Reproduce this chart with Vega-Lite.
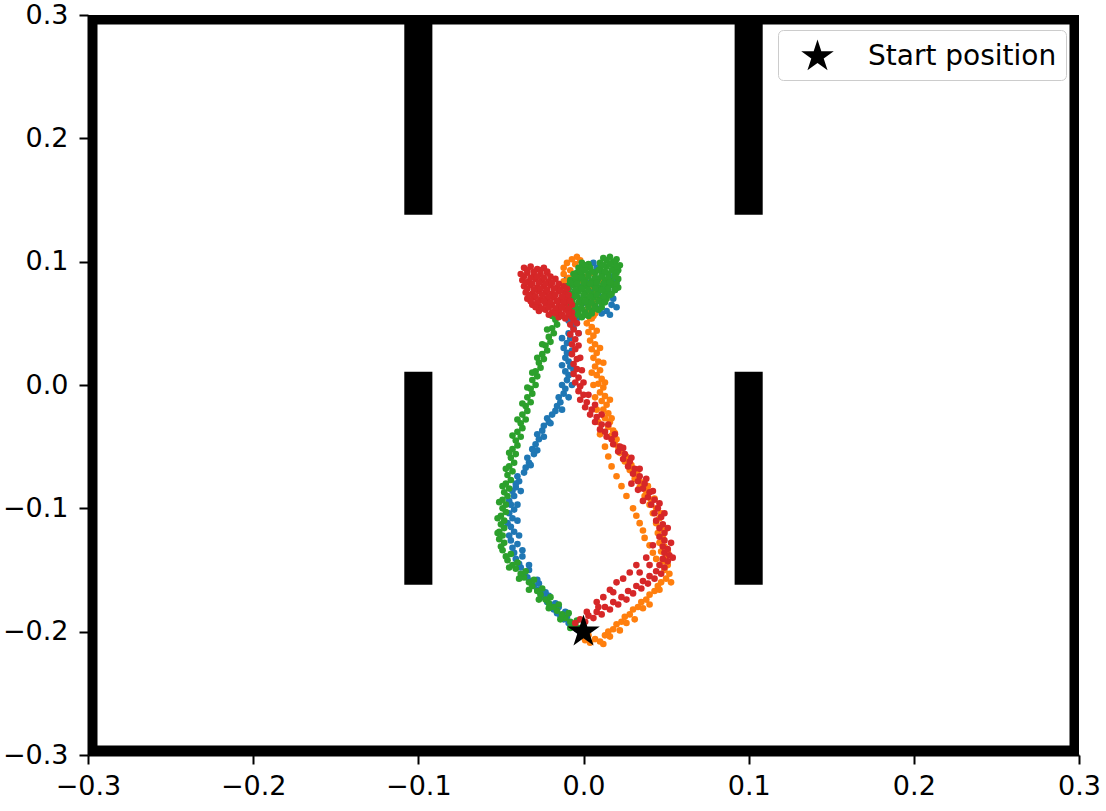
{
  "$schema": "https://vega.github.io/schema/vega-lite/v6.json",
  "width": 991,
  "height": 740,
  "autosize": {"type": "none"},
  "padding": {"left": 88, "top": 15, "right": 27, "bottom": 56},
  "background": "white",
  "config": {
    "view": {"stroke": null},
    "font": "DejaVu Sans",
    "axis": {
      "grid": false,
      "title": null,
      "labelFont": "DejaVu Sans",
      "labelFontSize": 27,
      "labelColor": "black",
      "tickColor": "black",
      "tickSize": 9,
      "tickWidth": 2,
      "domainColor": "black",
      "domainWidth": 2,
      "labelFlush": false,
      "labelOverlap": false
    },
    "axisX": {"labelPadding": 9},
    "axisY": {"labelPadding": 11}
  },
  "datasets": {
    "border": [
      {"x": -0.3, "x2": -0.3, "y": -0.3, "y2": 0.3},
      {"x": 0.3, "x2": 0.3, "y": -0.3, "y2": 0.3},
      {"x": -0.3, "x2": 0.3, "y": 0.3, "y2": 0.3},
      {"x": -0.3, "x2": 0.3, "y": -0.3, "y2": -0.3}
    ],
    "walls": [
      {"x": -0.1085, "x2": -0.0915, "y": 0.138, "y2": 0.3},
      {"x": -0.1085, "x2": -0.0915, "y": -0.162, "y2": 0.0108},
      {"x": 0.0915, "x2": 0.1085, "y": 0.138, "y2": 0.3},
      {"x": 0.0915, "x2": 0.1085, "y": -0.162, "y2": 0.0108}
    ],
    "start": [{"x": 0, "y": -0.2, "label": "Start position"}],
    "traj": [
      {"run":"1","x":-0.002,"y":-0.201},{"run":"1","x":-0.004,"y":-0.198},{"run":"1","x":-0.007,"y":-0.196},{"run":"1","x":-0.009,"y":-0.193},{"run":"1","x":-0.012,"y":-0.190},{"run":"1","x":-0.010,"y":-0.188},{"run":"1","x":-0.014,"y":-0.187},{"run":"1","x":-0.016,"y":-0.185},{"run":"1","x":-0.018,"y":-0.182},{"run":"1","x":-0.015,"y":-0.180},{"run":"1","x":-0.020,"y":-0.178},{"run":"1","x":-0.022,"y":-0.176},{"run":"1","x":-0.024,"y":-0.172},{"run":"1","x":-0.021,"y":-0.171},{"run":"1","x":-0.026,"y":-0.169},{"run":"1","x":-0.028,"y":-0.166},{"run":"1","x":-0.030,"y":-0.163},{"run":"1","x":-0.027,"y":-0.161},{"run":"1","x":-0.032,"y":-0.159},{"run":"1","x":-0.034,"y":-0.156},{"run":"1","x":-0.036,"y":-0.153},{"run":"1","x":-0.033,"y":-0.150},{"run":"1","x":-0.038,"y":-0.148},{"run":"1","x":-0.039,"y":-0.145},{"run":"1","x":-0.041,"y":-0.141},{"run":"1","x":-0.037,"y":-0.139},{"run":"1","x":-0.042,"y":-0.136},{"run":"1","x":-0.043,"y":-0.132},{"run":"1","x":-0.040,"y":-0.129},{"run":"1","x":-0.044,"y":-0.126},{"run":"1","x":-0.045,"y":-0.122},{"run":"1","x":-0.042,"y":-0.119},{"run":"1","x":-0.044,"y":-0.115},{"run":"1","x":-0.046,"y":-0.112},{"run":"1","x":-0.043,"y":-0.108},{"run":"1","x":-0.045,"y":-0.104},{"run":"1","x":-0.042,"y":-0.101},{"run":"1","x":-0.044,"y":-0.097},{"run":"1","x":-0.045,"y":-0.094},{"run":"1","x":-0.042,"y":-0.090},{"run":"1","x":-0.043,"y":-0.086},{"run":"1","x":-0.041,"y":-0.083},{"run":"1","x":-0.039,"y":-0.078},{"run":"1","x":-0.040,"y":-0.074},{"run":"1","x":-0.036,"y":-0.071},{"run":"1","x":-0.035,"y":-0.067},{"run":"1","x":-0.033,"y":-0.063},{"run":"1","x":-0.034,"y":-0.059},{"run":"1","x":-0.030,"y":-0.056},{"run":"1","x":-0.031,"y":-0.052},{"run":"1","x":-0.029,"y":-0.048},{"run":"1","x":-0.027,"y":-0.044},{"run":"1","x":-0.028,"y":-0.040},{"run":"1","x":-0.025,"y":-0.037},{"run":"1","x":-0.024,"y":-0.033},{"run":"1","x":-0.021,"y":-0.030},{"run":"1","x":-0.022,"y":-0.027},{"run":"1","x":-0.019,"y":-0.024},{"run":"1","x":-0.017,"y":-0.021},{"run":"1","x":-0.016,"y":-0.017},{"run":"1","x":-0.014,"y":-0.014},{"run":"1","x":-0.015,"y":-0.010},{"run":"1","x":-0.012,"y":-0.007},{"run":"1","x":-0.011,"y":-0.003},{"run":"1","x":-0.013,"y":0.000},{"run":"1","x":-0.010,"y":0.004},{"run":"1","x":-0.009,"y":0.008},{"run":"1","x":-0.011,"y":0.011},{"run":"1","x":-0.008,"y":0.015},{"run":"1","x":-0.009,"y":0.019},{"run":"1","x":-0.011,"y":0.022},{"run":"1","x":-0.010,"y":0.026},{"run":"1","x":-0.012,"y":0.030},{"run":"1","x":-0.010,"y":0.034},{"run":"1","x":-0.008,"y":0.038},{"run":"1","x":-0.009,"y":0.042},{"run":"1","x":-0.006,"y":0.046},{"run":"1","x":-0.007,"y":0.050},{"run":"1","x":-0.004,"y":0.054},{"run":"1","x":-0.005,"y":0.058},
      {"run":"1","x":-0.006,"y":-0.194},{"run":"1","x":-0.011,"y":-0.184},{"run":"1","x":-0.017,"y":-0.177},{"run":"1","x":-0.023,"y":-0.168},{"run":"1","x":-0.028,"y":-0.158},{"run":"1","x":-0.033,"y":-0.146},{"run":"1","x":-0.037,"y":-0.134},{"run":"1","x":-0.039,"y":-0.122},{"run":"1","x":-0.040,"y":-0.110},{"run":"1","x":-0.040,"y":-0.097},{"run":"1","x":-0.038,"y":-0.086},{"run":"1","x":-0.041,"y":-0.080},{"run":"1","x":-0.032,"y":-0.065},{"run":"1","x":-0.028,"y":-0.053},{"run":"1","x":-0.024,"y":-0.042},{"run":"1","x":-0.020,"y":-0.031},{"run":"1","x":-0.013,"y":-0.020},{"run":"1","x":-0.009,"y":-0.010},{"run":"1","x":-0.007,"y":0.000},{"run":"1","x":-0.006,"y":0.012},{"run":"1","x":-0.013,"y":0.016},{"run":"1","x":-0.007,"y":0.028},{"run":"1","x":-0.013,"y":0.038},{"run":"1","x":-0.003,"y":0.042},{"run":"1","x":-0.009,"y":0.052},
      {"run":"1","x":-0.002,"y":0.062},{"run":"1","x":0.002,"y":0.066},{"run":"1","x":0.006,"y":0.060},{"run":"1","x":0.010,"y":0.062},{"run":"1","x":0.014,"y":0.060},{"run":"1","x":0.017,"y":0.065},{"run":"1","x":0.012,"y":0.068},{"run":"1","x":0.018,"y":0.070},{"run":"1","x":0.015,"y":0.074},{"run":"1","x":0.019,"y":0.077},{"run":"1","x":0.016,"y":0.081},{"run":"1","x":0.020,"y":0.084},{"run":"1","x":0.017,"y":0.088},{"run":"1","x":0.012,"y":0.091},{"run":"1","x":0.008,"y":0.095},{"run":"1","x":0.006,"y":0.099},{"run":"1","x":0.002,"y":0.097},{"run":"1","x":-0.002,"y":0.094},{"run":"1","x":-0.006,"y":0.090},{"run":"1","x":-0.010,"y":0.086},{"run":"1","x":-0.012,"y":0.082},{"run":"1","x":-0.009,"y":0.078},{"run":"1","x":-0.005,"y":0.074},{"run":"1","x":0.000,"y":0.071},{"run":"1","x":0.004,"y":0.076},{"run":"1","x":0.008,"y":0.080},{"run":"1","x":0.011,"y":0.084},{"run":"1","x":0.007,"y":0.087},{"run":"1","x":0.003,"y":0.083},{"run":"1","x":-0.001,"y":0.080},{"run":"1","x":0.005,"y":0.070},{"run":"1","x":0.009,"y":0.073},{"run":"1","x":0.013,"y":0.077},{"run":"1","x":0.020,"y":0.063},{"run":"1","x":0.016,"y":0.057},{"run":"1","x":0.011,"y":0.058},

      {"run":"2","x":0.001,"y":-0.207},{"run":"2","x":0.004,"y":-0.209},{"run":"2","x":0.007,"y":-0.206},{"run":"2","x":0.010,"y":-0.208},{"run":"2","x":0.013,"y":-0.203},{"run":"2","x":0.015,"y":-0.200},{"run":"2","x":0.018,"y":-0.198},{"run":"2","x":0.020,"y":-0.194},{"run":"2","x":0.023,"y":-0.192},{"run":"2","x":0.025,"y":-0.188},{"run":"2","x":0.028,"y":-0.186},{"run":"2","x":0.030,"y":-0.182},{"run":"2","x":0.033,"y":-0.180},{"run":"2","x":0.035,"y":-0.176},{"run":"2","x":0.038,"y":-0.174},{"run":"2","x":0.040,"y":-0.170},{"run":"2","x":0.043,"y":-0.167},{"run":"2","x":0.045,"y":-0.163},{"run":"2","x":0.047,"y":-0.160},{"run":"2","x":0.050,"y":-0.157},{"run":"2","x":0.052,"y":-0.153},{"run":"2","x":0.049,"y":-0.150},{"run":"2","x":0.051,"y":-0.146},{"run":"2","x":0.048,"y":-0.143},{"run":"2","x":0.050,"y":-0.139},{"run":"2","x":0.047,"y":-0.135},{"run":"2","x":0.049,"y":-0.131},{"run":"2","x":0.046,"y":-0.128},{"run":"2","x":0.048,"y":-0.124},{"run":"2","x":0.045,"y":-0.120},{"run":"2","x":0.047,"y":-0.116},{"run":"2","x":0.044,"y":-0.112},{"run":"2","x":0.046,"y":-0.108},{"run":"2","x":0.042,"y":-0.104},{"run":"2","x":0.044,"y":-0.100},{"run":"2","x":0.040,"y":-0.097},{"run":"2","x":0.041,"y":-0.093},{"run":"2","x":0.037,"y":-0.090},{"run":"2","x":0.038,"y":-0.086},{"run":"2","x":0.034,"y":-0.083},{"run":"2","x":0.035,"y":-0.079},{"run":"2","x":0.031,"y":-0.076},{"run":"2","x":0.032,"y":-0.072},{"run":"2","x":0.028,"y":-0.069},{"run":"2","x":0.029,"y":-0.065},{"run":"2","x":0.025,"y":-0.062},{"run":"2","x":0.026,"y":-0.058},{"run":"2","x":0.022,"y":-0.055},{"run":"2","x":0.023,"y":-0.051},{"run":"2","x":0.019,"y":-0.048},{"run":"2","x":0.020,"y":-0.044},{"run":"2","x":0.017,"y":-0.041},{"run":"2","x":0.018,"y":-0.037},{"run":"2","x":0.015,"y":-0.034},{"run":"2","x":0.016,"y":-0.030},{"run":"2","x":0.013,"y":-0.027},{"run":"2","x":0.015,"y":-0.023},{"run":"2","x":0.012,"y":-0.020},{"run":"2","x":0.014,"y":-0.016},{"run":"2","x":0.011,"y":-0.013},{"run":"2","x":0.013,"y":-0.009},{"run":"2","x":0.010,"y":-0.006},{"run":"2","x":0.012,"y":-0.002},{"run":"2","x":0.009,"y":0.001},{"run":"2","x":0.011,"y":0.005},{"run":"2","x":0.008,"y":0.008},{"run":"2","x":0.010,"y":0.012},{"run":"2","x":0.007,"y":0.015},{"run":"2","x":0.009,"y":0.019},{"run":"2","x":0.006,"y":0.022},{"run":"2","x":0.008,"y":0.026},{"run":"2","x":0.005,"y":0.029},{"run":"2","x":0.007,"y":0.033},{"run":"2","x":0.004,"y":0.036},{"run":"2","x":0.006,"y":0.040},{"run":"2","x":0.003,"y":0.043},{"run":"2","x":0.005,"y":0.047},{"run":"2","x":0.002,"y":0.050},{"run":"2","x":0.004,"y":0.054},{"run":"2","x":0.001,"y":0.057},{"run":"2","x":0.003,"y":0.061},
      {"run":"2","x":0.030,"y":-0.100},{"run":"2","x":0.032,"y":-0.106},{"run":"2","x":0.034,"y":-0.112},{"run":"2","x":0.036,"y":-0.118},{"run":"2","x":0.037,"y":-0.124},{"run":"2","x":0.040,"y":-0.130},{"run":"2","x":0.042,"y":-0.136},{"run":"2","x":0.044,"y":-0.141},{"run":"2","x":0.026,"y":-0.090},{"run":"2","x":0.023,"y":-0.082},{"run":"2","x":0.020,"y":-0.074},{"run":"2","x":0.017,"y":-0.066},{"run":"2","x":0.015,"y":-0.058},{"run":"2","x":0.013,"y":-0.050},{"run":"2","x":0.010,"y":-0.040},{"run":"2","x":0.009,"y":-0.030},{"run":"2","x":0.008,"y":-0.020},{"run":"2","x":0.007,"y":-0.010},{"run":"2","x":0.006,"y":0.000},{"run":"2","x":0.005,"y":0.010},{"run":"2","x":0.003,"y":-0.203},{"run":"2","x":0.016,"y":-0.204},{"run":"2","x":0.022,"y":-0.199},{"run":"2","x":0.031,"y":-0.190},{"run":"2","x":0.040,"y":-0.178},
      {"run":"2","x":0.053,"y":-0.160},{"run":"2","x":0.046,"y":-0.166},{"run":"2","x":0.036,"y":-0.181},{"run":"2","x":0.026,"y":-0.193},{"run":"2","x":0.012,"y":-0.210},{"run":"2","x":0.051,"y":-0.135},{"run":"2","x":0.049,"y":-0.118},{"run":"2","x":0.047,"y":-0.104},{"run":"2","x":0.043,"y":-0.092},{"run":"2","x":0.039,"y":-0.082},{"run":"2","x":0.033,"y":-0.069},{"run":"2","x":0.027,"y":-0.060},{"run":"2","x":0.021,"y":-0.050},{"run":"2","x":0.019,"y":-0.039},{"run":"2","x":0.017,"y":-0.027},{"run":"2","x":0.016,"y":-0.012},{"run":"2","x":0.013,"y":0.002},{"run":"2","x":0.012,"y":0.018},{"run":"2","x":0.010,"y":0.030},{"run":"2","x":0.008,"y":0.044},{"run":"2","x":0.006,"y":0.056},
      {"run":"2","x":-0.004,"y":0.104},{"run":"2","x":-0.007,"y":0.102},{"run":"2","x":-0.002,"y":0.101},{"run":"2","x":-0.010,"y":0.099},{"run":"2","x":-0.005,"y":0.098},{"run":"2","x":-0.012,"y":0.095},{"run":"2","x":-0.008,"y":0.093},{"run":"2","x":-0.012,"y":0.090},{"run":"2","x":-0.009,"y":0.087},{"run":"2","x":-0.012,"y":0.084},{"run":"2","x":-0.006,"y":0.082},{"run":"2","x":-0.002,"y":0.085},{"run":"2","x":0.002,"y":0.088},{"run":"2","x":0.005,"y":0.091},{"run":"2","x":0.001,"y":0.094},{"run":"2","x":-0.003,"y":0.090},{"run":"2","x":0.004,"y":0.080},{"run":"2","x":0.008,"y":0.076},{"run":"2","x":0.004,"y":0.072},{"run":"2","x":0.000,"y":0.068},{"run":"2","x":0.006,"y":0.066},{"run":"2","x":0.003,"y":0.063},{"run":"2","x":0.008,"y":0.070},{"run":"2","x":0.010,"y":0.085},{"run":"2","x":0.007,"y":0.058},{"run":"2","x":0.005,"y":0.054},

      {"run":"3","x":-0.002,"y":-0.197},{"run":"3","x":-0.005,"y":-0.195},{"run":"3","x":-0.008,"y":-0.192},{"run":"3","x":-0.004,"y":-0.191},{"run":"3","x":-0.011,"y":-0.189},{"run":"3","x":-0.013,"y":-0.186},{"run":"3","x":-0.009,"y":-0.185},{"run":"3","x":-0.016,"y":-0.183},{"run":"3","x":-0.018,"y":-0.180},{"run":"3","x":-0.015,"y":-0.178},{"run":"3","x":-0.021,"y":-0.177},{"run":"3","x":-0.023,"y":-0.174},{"run":"3","x":-0.020,"y":-0.172},{"run":"3","x":-0.026,"y":-0.170},{"run":"3","x":-0.028,"y":-0.167},{"run":"3","x":-0.025,"y":-0.165},{"run":"3","x":-0.031,"y":-0.163},{"run":"3","x":-0.033,"y":-0.160},{"run":"3","x":-0.030,"y":-0.158},{"run":"3","x":-0.036,"y":-0.156},{"run":"3","x":-0.038,"y":-0.153},{"run":"3","x":-0.035,"y":-0.151},{"run":"3","x":-0.041,"y":-0.149},{"run":"3","x":-0.043,"y":-0.146},{"run":"3","x":-0.040,"y":-0.144},{"run":"3","x":-0.046,"y":-0.142},{"run":"3","x":-0.047,"y":-0.139},{"run":"3","x":-0.044,"y":-0.137},{"run":"3","x":-0.049,"y":-0.134},{"run":"3","x":-0.050,"y":-0.131},{"run":"3","x":-0.048,"y":-0.128},{"run":"3","x":-0.051,"y":-0.125},{"run":"3","x":-0.049,"y":-0.122},{"run":"3","x":-0.051,"y":-0.119},{"run":"3","x":-0.048,"y":-0.116},{"run":"3","x":-0.050,"y":-0.113},{"run":"3","x":-0.048,"y":-0.110},{"run":"3","x":-0.050,"y":-0.106},{"run":"3","x":-0.047,"y":-0.103},{"run":"3","x":-0.049,"y":-0.100},{"run":"3","x":-0.047,"y":-0.097},{"run":"3","x":-0.049,"y":-0.093},{"run":"3","x":-0.046,"y":-0.090},{"run":"3","x":-0.048,"y":-0.087},{"run":"3","x":-0.045,"y":-0.084},{"run":"3","x":-0.047,"y":-0.080},{"run":"3","x":-0.044,"y":-0.077},{"run":"3","x":-0.046,"y":-0.073},{"run":"3","x":-0.043,"y":-0.070},{"run":"3","x":-0.045,"y":-0.066},{"run":"3","x":-0.042,"y":-0.063},{"run":"3","x":-0.044,"y":-0.059},{"run":"3","x":-0.041,"y":-0.056},{"run":"3","x":-0.043,"y":-0.052},{"run":"3","x":-0.040,"y":-0.049},{"run":"3","x":-0.041,"y":-0.045},{"run":"3","x":-0.038,"y":-0.042},{"run":"3","x":-0.040,"y":-0.038},{"run":"3","x":-0.037,"y":-0.035},{"run":"3","x":-0.038,"y":-0.031},{"run":"3","x":-0.035,"y":-0.028},{"run":"3","x":-0.037,"y":-0.024},{"run":"3","x":-0.034,"y":-0.021},{"run":"3","x":-0.035,"y":-0.017},{"run":"3","x":-0.032,"y":-0.014},{"run":"3","x":-0.034,"y":-0.010},{"run":"3","x":-0.031,"y":-0.007},{"run":"3","x":-0.032,"y":-0.003},{"run":"3","x":-0.029,"y":0.000},{"run":"3","x":-0.031,"y":0.004},{"run":"3","x":-0.028,"y":0.007},{"run":"3","x":-0.029,"y":0.011},{"run":"3","x":-0.026,"y":0.014},{"run":"3","x":-0.027,"y":0.018},{"run":"3","x":-0.024,"y":0.021},{"run":"3","x":-0.025,"y":0.025},{"run":"3","x":-0.022,"y":0.028},{"run":"3","x":-0.023,"y":0.032},{"run":"3","x":-0.020,"y":0.035},{"run":"3","x":-0.021,"y":0.039},{"run":"3","x":-0.018,"y":0.042},{"run":"3","x":-0.019,"y":0.046},{"run":"3","x":-0.016,"y":0.049},{"run":"3","x":-0.017,"y":0.053},{"run":"3","x":-0.014,"y":0.056},{"run":"3","x":-0.015,"y":0.060},
      {"run":"3","x":-0.052,"y":-0.120},{"run":"3","x":-0.052,"y":-0.108},{"run":"3","x":-0.051,"y":-0.095},{"run":"3","x":-0.049,"y":-0.082},{"run":"3","x":-0.047,"y":-0.068},{"run":"3","x":-0.045,"y":-0.055},{"run":"3","x":-0.043,"y":-0.041},{"run":"3","x":-0.040,"y":-0.028},{"run":"3","x":-0.037,"y":-0.015},{"run":"3","x":-0.034,"y":-0.002},{"run":"3","x":-0.031,"y":0.010},{"run":"3","x":-0.028,"y":0.022},{"run":"3","x":-0.025,"y":0.033},{"run":"3","x":-0.022,"y":0.045},{"run":"3","x":-0.019,"y":0.056},{"run":"3","x":-0.045,"y":-0.148},{"run":"3","x":-0.039,"y":-0.157},{"run":"3","x":-0.033,"y":-0.166},{"run":"3","x":-0.027,"y":-0.174},{"run":"3","x":-0.021,"y":-0.181},{"run":"3","x":-0.014,"y":-0.190},{"run":"3","x":-0.008,"y":-0.197},
      {"run":"3","x":0.012,"y":0.103},{"run":"3","x":0.016,"y":0.104},{"run":"3","x":0.020,"y":0.102},
      {"run":"3","x":-0.001,"y":0.099},{"run":"3","x":0.003,"y":0.098},{"run":"3","x":0.010,"y":0.099},{"run":"3","x":0.019,"y":0.099},{"run":"3","x":0.022,"y":0.097},
      {"run":"3","x":-0.003,"y":0.095},{"run":"3","x":0.000,"y":0.094},{"run":"3","x":0.004,"y":0.095},{"run":"3","x":0.010,"y":0.094},{"run":"3","x":0.014,"y":0.096},{"run":"3","x":0.018,"y":0.094},{"run":"3","x":0.021,"y":0.093},
      {"run":"3","x":-0.006,"y":0.090},{"run":"3","x":-0.004,"y":0.091},{"run":"3","x":-0.001,"y":0.089},{"run":"3","x":0.003,"y":0.090},{"run":"3","x":0.007,"y":0.091},{"run":"3","x":0.011,"y":0.089},{"run":"3","x":0.015,"y":0.090},{"run":"3","x":0.019,"y":0.089},
      {"run":"3","x":-0.008,"y":0.085},{"run":"3","x":-0.006,"y":0.084},{"run":"3","x":-0.003,"y":0.086},{"run":"3","x":0.001,"y":0.085},{"run":"3","x":0.005,"y":0.084},{"run":"3","x":0.009,"y":0.086},{"run":"3","x":0.013,"y":0.085},{"run":"3","x":0.017,"y":0.084},{"run":"3","x":0.021,"y":0.086},
      {"run":"3","x":-0.010,"y":0.080},{"run":"3","x":-0.006,"y":0.081},{"run":"3","x":-0.002,"y":0.079},{"run":"3","x":0.002,"y":0.080},{"run":"3","x":0.006,"y":0.081},{"run":"3","x":0.010,"y":0.079},{"run":"3","x":0.014,"y":0.080},{"run":"3","x":0.018,"y":0.081},{"run":"3","x":0.021,"y":0.079},
      {"run":"3","x":-0.011,"y":0.075},{"run":"3","x":-0.007,"y":0.074},{"run":"3","x":-0.003,"y":0.076},{"run":"3","x":0.001,"y":0.075},{"run":"3","x":0.005,"y":0.074},{"run":"3","x":0.009,"y":0.076},{"run":"3","x":0.013,"y":0.075},{"run":"3","x":0.017,"y":0.074},
      {"run":"3","x":-0.010,"y":0.070},{"run":"3","x":-0.006,"y":0.071},{"run":"3","x":-0.002,"y":0.069},{"run":"3","x":0.002,"y":0.070},{"run":"3","x":0.006,"y":0.071},{"run":"3","x":0.010,"y":0.069},{"run":"3","x":0.014,"y":0.070},
      {"run":"3","x":-0.009,"y":0.065},{"run":"3","x":-0.005,"y":0.064},{"run":"3","x":-0.001,"y":0.066},{"run":"3","x":0.003,"y":0.065},{"run":"3","x":0.007,"y":0.064},{"run":"3","x":0.011,"y":0.066},
      {"run":"3","x":-0.007,"y":0.060},{"run":"3","x":-0.003,"y":0.061},{"run":"3","x":0.001,"y":0.059},{"run":"3","x":0.005,"y":0.060},{"run":"3","x":0.009,"y":0.061},
      {"run":"3","x":-0.005,"y":0.056},{"run":"3","x":-0.001,"y":0.055},{"run":"3","x":0.003,"y":0.056},
      {"run":"3","x":0.014,"y":0.101},{"run":"3","x":0.018,"y":0.100},{"run":"3","x":0.001,"y":0.097},{"run":"3","x":0.012,"y":0.097},{"run":"3","x":0.016,"y":0.098},{"run":"3","x":0.020,"y":0.096},
      {"run":"3","x":-0.002,"y":0.092},{"run":"3","x":0.001,"y":0.093},{"run":"3","x":0.005,"y":0.092},{"run":"3","x":0.009,"y":0.093},{"run":"3","x":0.013,"y":0.092},{"run":"3","x":0.017,"y":0.093},{"run":"3","x":0.020,"y":0.091},
      {"run":"3","x":-0.005,"y":0.088},{"run":"3","x":-0.001,"y":0.087},{"run":"3","x":0.003,"y":0.088},{"run":"3","x":0.007,"y":0.087},{"run":"3","x":0.011,"y":0.088},{"run":"3","x":0.015,"y":0.087},{"run":"3","x":0.019,"y":0.088},
      {"run":"3","x":-0.008,"y":0.083},{"run":"3","x":-0.004,"y":0.082},{"run":"3","x":0.000,"y":0.083},{"run":"3","x":0.004,"y":0.082},{"run":"3","x":0.008,"y":0.083},{"run":"3","x":0.012,"y":0.082},{"run":"3","x":0.016,"y":0.083},{"run":"3","x":0.020,"y":0.082},
      {"run":"3","x":-0.009,"y":0.078},{"run":"3","x":-0.005,"y":0.077},{"run":"3","x":-0.001,"y":0.078},{"run":"3","x":0.003,"y":0.077},{"run":"3","x":0.007,"y":0.078},{"run":"3","x":0.011,"y":0.077},{"run":"3","x":0.015,"y":0.078},{"run":"3","x":0.019,"y":0.077},
      {"run":"3","x":-0.008,"y":0.073},{"run":"3","x":-0.004,"y":0.072},{"run":"3","x":0.000,"y":0.073},{"run":"3","x":0.004,"y":0.072},{"run":"3","x":0.008,"y":0.073},{"run":"3","x":0.012,"y":0.072},{"run":"3","x":0.016,"y":0.073},
      {"run":"3","x":-0.007,"y":0.068},{"run":"3","x":-0.003,"y":0.067},{"run":"3","x":0.001,"y":0.068},{"run":"3","x":0.005,"y":0.067},{"run":"3","x":0.009,"y":0.068},{"run":"3","x":0.013,"y":0.067},
      {"run":"3","x":-0.005,"y":0.063},{"run":"3","x":-0.001,"y":0.062},{"run":"3","x":0.003,"y":0.063},{"run":"3","x":0.007,"y":0.062},{"run":"3","x":0.011,"y":0.063},
      {"run":"3","x":-0.003,"y":0.058},{"run":"3","x":0.001,"y":0.057},{"run":"3","x":0.005,"y":0.058},

      {"run":"4","x":-0.005,"y":-0.193},{"run":"4","x":-0.002,"y":-0.190},{"run":"4","x":0.001,"y":-0.192},{"run":"4","x":0.003,"y":-0.187},{"run":"4","x":0.006,"y":-0.189},{"run":"4","x":0.008,"y":-0.184},{"run":"4","x":0.011,"y":-0.186},{"run":"4","x":0.013,"y":-0.180},{"run":"4","x":0.016,"y":-0.182},{"run":"4","x":0.018,"y":-0.176},{"run":"4","x":0.021,"y":-0.178},{"run":"4","x":0.023,"y":-0.172},{"run":"4","x":0.026,"y":-0.174},{"run":"4","x":0.027,"y":-0.167},{"run":"4","x":0.030,"y":-0.169},{"run":"4","x":0.032,"y":-0.163},{"run":"4","x":0.035,"y":-0.165},{"run":"4","x":0.036,"y":-0.159},{"run":"4","x":0.039,"y":-0.161},{"run":"4","x":0.040,"y":-0.155},{"run":"4","x":0.043,"y":-0.157},{"run":"4","x":0.044,"y":-0.151},{"run":"4","x":0.047,"y":-0.153},{"run":"4","x":0.046,"y":-0.146},{"run":"4","x":0.049,"y":-0.148},{"run":"4","x":0.048,"y":-0.141},{"run":"4","x":0.051,"y":-0.143},{"run":"4","x":0.049,"y":-0.136},{"run":"4","x":0.052,"y":-0.138},{"run":"4","x":0.048,"y":-0.131},{"run":"4","x":0.051,"y":-0.133},{"run":"4","x":0.049,"y":-0.126},{"run":"4","x":0.046,"y":-0.123},{"run":"4","x":0.049,"y":-0.120},{"run":"4","x":0.046,"y":-0.116},{"run":"4","x":0.048,"y":-0.113},{"run":"4","x":0.044,"y":-0.110},{"run":"4","x":0.047,"y":-0.107},{"run":"4","x":0.043,"y":-0.104},{"run":"4","x":0.045,"y":-0.100},{"run":"4","x":0.041,"y":-0.097},{"run":"4","x":0.043,"y":-0.093},{"run":"4","x":0.039,"y":-0.091},{"run":"4","x":0.040,"y":-0.087},{"run":"4","x":0.036,"y":-0.084},{"run":"4","x":0.037,"y":-0.080},{"run":"4","x":0.033,"y":-0.078},{"run":"4","x":0.034,"y":-0.074},{"run":"4","x":0.030,"y":-0.072},{"run":"4","x":0.031,"y":-0.068},{"run":"4","x":0.027,"y":-0.066},{"run":"4","x":0.028,"y":-0.062},{"run":"4","x":0.024,"y":-0.060},{"run":"4","x":0.025,"y":-0.056},{"run":"4","x":0.021,"y":-0.054},{"run":"4","x":0.022,"y":-0.050},{"run":"4","x":0.018,"y":-0.048},{"run":"4","x":0.017,"y":-0.044},{"run":"4","x":0.014,"y":-0.042},{"run":"4","x":0.013,"y":-0.038},{"run":"4","x":0.010,"y":-0.036},{"run":"4","x":0.011,"y":-0.032},{"run":"4","x":0.007,"y":-0.030},{"run":"4","x":0.008,"y":-0.026},{"run":"4","x":0.004,"y":-0.024},{"run":"4","x":0.005,"y":-0.020},{"run":"4","x":0.001,"y":-0.018},{"run":"4","x":0.002,"y":-0.014},{"run":"4","x":-0.002,"y":-0.012},{"run":"4","x":0.000,"y":-0.008},{"run":"4","x":-0.003,"y":-0.005},{"run":"4","x":-0.002,"y":-0.001},{"run":"4","x":-0.005,"y":0.002},{"run":"4","x":-0.003,"y":0.006},{"run":"4","x":-0.006,"y":0.009},{"run":"4","x":-0.004,"y":0.013},{"run":"4","x":-0.006,"y":0.017},{"run":"4","x":-0.004,"y":0.021},{"run":"4","x":-0.007,"y":0.025},{"run":"4","x":-0.005,"y":0.029},{"run":"4","x":-0.007,"y":0.033},{"run":"4","x":-0.005,"y":0.037},{"run":"4","x":-0.008,"y":0.041},{"run":"4","x":-0.006,"y":0.045},{"run":"4","x":-0.008,"y":0.049},{"run":"4","x":-0.006,"y":0.053},{"run":"4","x":-0.009,"y":0.057},
      {"run":"4","x":0.020,"y":-0.160},{"run":"4","x":0.024,"y":-0.157},{"run":"4","x":0.028,"y":-0.152},{"run":"4","x":0.016,"y":-0.166},{"run":"4","x":0.012,"y":-0.172},{"run":"4","x":0.033,"y":-0.085},{"run":"4","x":0.029,"y":-0.080},{"run":"4","x":0.036,"y":-0.094},{"run":"4","x":0.008,"y":-0.176},{"run":"4","x":0.032,"y":-0.146},{"run":"4","x":0.038,"y":-0.140},{"run":"4","x":0.042,"y":-0.130},
      {"run":"4","x":0.054,"y":-0.140},{"run":"4","x":0.053,"y":-0.128},{"run":"4","x":0.051,"y":-0.116},{"run":"4","x":0.049,"y":-0.104},{"run":"4","x":0.046,"y":-0.096},{"run":"4","x":0.042,"y":-0.086},{"run":"4","x":0.038,"y":-0.076},{"run":"4","x":0.034,"y":-0.068},{"run":"4","x":0.029,"y":-0.059},{"run":"4","x":0.024,"y":-0.051},{"run":"4","x":0.019,"y":-0.040},{"run":"4","x":0.015,"y":-0.032},{"run":"4","x":0.011,"y":-0.024},{"run":"4","x":0.007,"y":-0.016},{"run":"4","x":0.003,"y":-0.008},{"run":"4","x":0.000,"y":0.002},{"run":"4","x":-0.001,"y":0.012},{"run":"4","x":-0.002,"y":0.022},{"run":"4","x":-0.003,"y":0.032},{"run":"4","x":-0.003,"y":0.042},{"run":"4","x":-0.004,"y":0.050},{"run":"4","x":0.018,"y":-0.168},{"run":"4","x":0.009,"y":-0.180},{"run":"4","x":0.002,"y":-0.184},{"run":"4","x":0.034,"y":-0.152},{"run":"4","x":0.040,"y":-0.146},
      {"run":"4","x":-0.036,"y":0.095},{"run":"4","x":-0.032,"y":0.096},{"run":"4","x":-0.028,"y":0.094},{"run":"4","x":-0.024,"y":0.095},
      {"run":"4","x":-0.038,"y":0.090},{"run":"4","x":-0.034,"y":0.091},{"run":"4","x":-0.030,"y":0.089},{"run":"4","x":-0.026,"y":0.090},{"run":"4","x":-0.022,"y":0.091},
      {"run":"4","x":-0.037,"y":0.085},{"run":"4","x":-0.033,"y":0.084},{"run":"4","x":-0.029,"y":0.086},{"run":"4","x":-0.025,"y":0.085},{"run":"4","x":-0.021,"y":0.084},{"run":"4","x":-0.017,"y":0.086},
      {"run":"4","x":-0.036,"y":0.080},{"run":"4","x":-0.032,"y":0.081},{"run":"4","x":-0.028,"y":0.079},{"run":"4","x":-0.024,"y":0.080},{"run":"4","x":-0.020,"y":0.081},{"run":"4","x":-0.016,"y":0.079},{"run":"4","x":-0.012,"y":0.080},
      {"run":"4","x":-0.035,"y":0.075},{"run":"4","x":-0.031,"y":0.074},{"run":"4","x":-0.027,"y":0.076},{"run":"4","x":-0.023,"y":0.075},{"run":"4","x":-0.019,"y":0.074},{"run":"4","x":-0.015,"y":0.076},{"run":"4","x":-0.011,"y":0.075},
      {"run":"4","x":-0.034,"y":0.070},{"run":"4","x":-0.030,"y":0.071},{"run":"4","x":-0.026,"y":0.069},{"run":"4","x":-0.022,"y":0.070},{"run":"4","x":-0.018,"y":0.071},{"run":"4","x":-0.014,"y":0.069},{"run":"4","x":-0.010,"y":0.070},
      {"run":"4","x":-0.031,"y":0.065},{"run":"4","x":-0.027,"y":0.064},{"run":"4","x":-0.023,"y":0.066},{"run":"4","x":-0.019,"y":0.065},{"run":"4","x":-0.015,"y":0.064},{"run":"4","x":-0.011,"y":0.066},{"run":"4","x":-0.007,"y":0.065},
      {"run":"4","x":-0.027,"y":0.060},{"run":"4","x":-0.023,"y":0.061},{"run":"4","x":-0.019,"y":0.059},{"run":"4","x":-0.015,"y":0.060},{"run":"4","x":-0.011,"y":0.061},{"run":"4","x":-0.007,"y":0.059},
      {"run":"4","x":-0.015,"y":0.055},{"run":"4","x":-0.011,"y":0.054},{"run":"4","x":-0.007,"y":0.055},
      {"run":"4","x":-0.034,"y":0.093},{"run":"4","x":-0.030,"y":0.092},{"run":"4","x":-0.026,"y":0.093},{"run":"4","x":-0.022,"y":0.092},
      {"run":"4","x":-0.036,"y":0.088},{"run":"4","x":-0.032,"y":0.087},{"run":"4","x":-0.028,"y":0.088},{"run":"4","x":-0.024,"y":0.087},{"run":"4","x":-0.020,"y":0.088},
      {"run":"4","x":-0.035,"y":0.083},{"run":"4","x":-0.031,"y":0.082},{"run":"4","x":-0.027,"y":0.083},{"run":"4","x":-0.023,"y":0.082},{"run":"4","x":-0.019,"y":0.083},{"run":"4","x":-0.015,"y":0.082},
      {"run":"4","x":-0.034,"y":0.078},{"run":"4","x":-0.030,"y":0.077},{"run":"4","x":-0.026,"y":0.078},{"run":"4","x":-0.022,"y":0.077},{"run":"4","x":-0.018,"y":0.078},{"run":"4","x":-0.014,"y":0.077},{"run":"4","x":-0.010,"y":0.078},
      {"run":"4","x":-0.033,"y":0.073},{"run":"4","x":-0.029,"y":0.072},{"run":"4","x":-0.025,"y":0.073},{"run":"4","x":-0.021,"y":0.072},{"run":"4","x":-0.017,"y":0.073},{"run":"4","x":-0.013,"y":0.072},{"run":"4","x":-0.009,"y":0.073},
      {"run":"4","x":-0.032,"y":0.068},{"run":"4","x":-0.028,"y":0.067},{"run":"4","x":-0.024,"y":0.068},{"run":"4","x":-0.020,"y":0.067},{"run":"4","x":-0.016,"y":0.068},{"run":"4","x":-0.012,"y":0.067},{"run":"4","x":-0.008,"y":0.068},
      {"run":"4","x":-0.029,"y":0.063},{"run":"4","x":-0.025,"y":0.062},{"run":"4","x":-0.021,"y":0.063},{"run":"4","x":-0.017,"y":0.062},{"run":"4","x":-0.013,"y":0.063},{"run":"4","x":-0.009,"y":0.062},
      {"run":"4","x":-0.021,"y":0.057},{"run":"4","x":-0.017,"y":0.058},{"run":"4","x":-0.013,"y":0.057},{"run":"4","x":-0.009,"y":0.058}
    ]
  },
  "encoding": {
    "x": {
      "field": "x", "type": "quantitative",
      "scale": {"domain": [-0.3, 0.3], "nice": false, "zero": false},
      "axis": {"values": [-0.3, -0.2, -0.1, 0, 0.1, 0.2, 0.3], "format": ".1f"}
    },
    "y": {
      "field": "y", "type": "quantitative",
      "scale": {"domain": [-0.3, 0.3], "nice": false, "zero": false},
      "axis": {"values": [-0.3, -0.2, -0.1, 0, 0.1, 0.2, 0.3], "format": ".1f"}
    }
  },
  "layer": [
    {
      "data": {"name": "walls"},
      "mark": {"type": "rect", "color": "black"},
      "encoding": {"x2": {"field": "x2"}, "y2": {"field": "y2"}}
    },
    {
      "data": {"name": "border"},
      "mark": {"type": "rule", "color": "black", "strokeWidth": 19, "strokeCap": "square", "clip": true},
      "encoding": {"x2": {"field": "x2"}, "y2": {"field": "y2"}}
    },
    {
      "data": {"name": "traj"},
      "mark": {"type": "circle", "size": 44, "opacity": 1},
      "encoding": {
        "color": {"field": "run", "type": "nominal", "scale": {"domain": ["1", "2", "3", "4"], "range": ["#1f77b4", "#ff7f0e", "#2ca02c", "#d62728"]}, "legend": null}
      }
    },
    {
      "data": {"name": "start"},
      "mark": {"type": "point", "filled": true, "color": "black", "size": 1170, "opacity": 1, "strokeWidth": 0},
      "encoding": {
        "shape": {
          "field": "label", "type": "nominal",
          "scale": {"domain": ["Start position"], "range": ["M0,-1L0.2245,-0.309L0.951,-0.309L0.363,0.118L0.588,0.809L0,0.382L-0.588,0.809L-0.363,0.118L-0.951,-0.309L-0.2245,-0.309Z"]},
          "legend": {
            "title": null, "orient": "none", "legendX": 690, "legendY": 15,
            "padding": 9, "symbolSize": 1170, "symbolFillColor": "black", "symbolStrokeWidth": 0,
            "symbolOffset": 13, "labelOffset": 33,
            "labelFont": "DejaVu Sans", "labelFontSize": 28, "labelColor": "black", "labelLimit": 400,
            "strokeColor": "#cccccc", "fillColor": "rgba(255,255,255,0.8)", "cornerRadius": 5
          }
        }
      }
    }
  ]
}
